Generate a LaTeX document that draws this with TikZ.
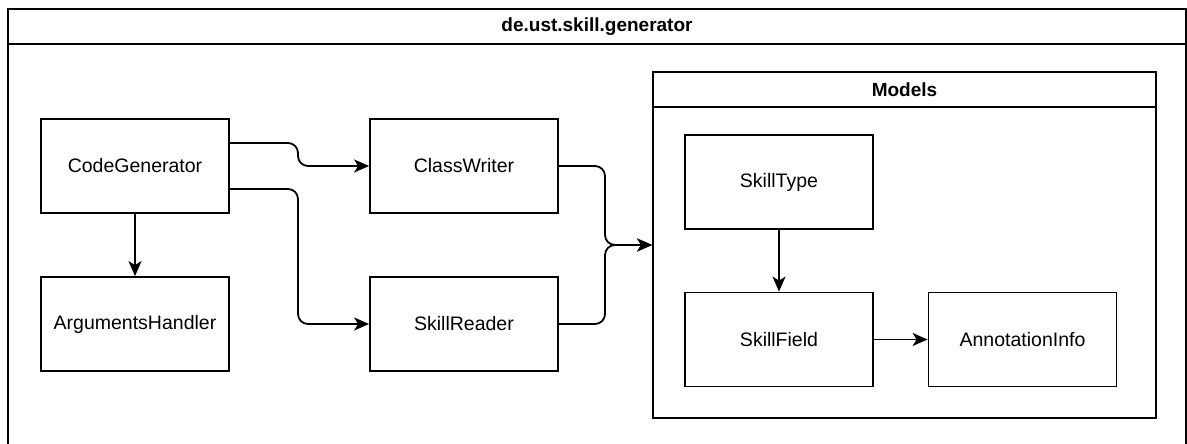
\documentclass[tikz,border=0pt]{standalone}
\usepackage{fontspec}
\setmainfont{Liberation Sans}
\usetikzlibrary{arrows.meta,calc}

\tikzset{
  box/.style={draw, line width=1.8pt, minimum width=188pt, minimum height=94pt,
              inner sep=0pt, font=\fontsize{19.5}{23}\selectfont},
  conn/.style={line width=1.8pt, rounded corners=10pt,
               -{Stealth[length=15pt, width=13pt, inset=4pt]}},
  frame/.style={line width=1.8pt},
  heading/.style={font=\fontsize{19}{23}\selectfont\bfseries, inner sep=0pt}
}

\begin{document}
\begin{tikzpicture}[x=1pt, y=-1pt]
  \useasboundingbox (0,0) rectangle (1187,444);

  % package frame with its title bar (open at the bottom)
  \draw[frame] (8,446) -- (8,9) -- (1186,9) -- (1186,446);
  \draw[frame] (8,44) -- (1186,44);
  \node[heading] (pkgtitle) at (597,26.5) {de.ust.skill.generator};

  % Models container
  \node[draw, line width=1.8pt, minimum width=503pt, minimum height=346pt, inner sep=0pt]
    (models) at (904.5,245) {};
  \draw[frame] ([yshift=-36pt]models.north west) -- ([yshift=-36pt]models.north east);
  \node[heading] (modelstitle) at (904.5,90) {Models};

  % classes
  \node[box] (cg) at (135,166) {CodeGenerator};
  \node[box] (ah) at (135,324) {ArgumentsHandler};
  \node[box] (cw) at (464,166) {ClassWriter};
  \node[box] (sr) at (464,324) {SkillReader};
  \node[box] (st) at (779,182) {SkillType};
  \node[box] (sf) at (779,339.5) {SkillField};
  \node[box] (ai) at (1022.5,339.5) {AnnotationInfo};

  % dependencies
  \draw[conn] (cg) -- (ah);
  \draw[conn] ([yshift=23pt]cg.east) -| (298,166) -- (cw.west);
  \draw[conn] ([yshift=-23pt]cg.east) -| (298,324) -- (sr.west);
  \draw[conn] (cw.east) -| (605,245) -- (models.west);
  \draw[conn] (sr.east) -| (605,245) -- (models.west);
  \draw[conn] (st) -- (sf);
  \draw[conn] (sf) -- (ai);
\end{tikzpicture}
\end{document}
